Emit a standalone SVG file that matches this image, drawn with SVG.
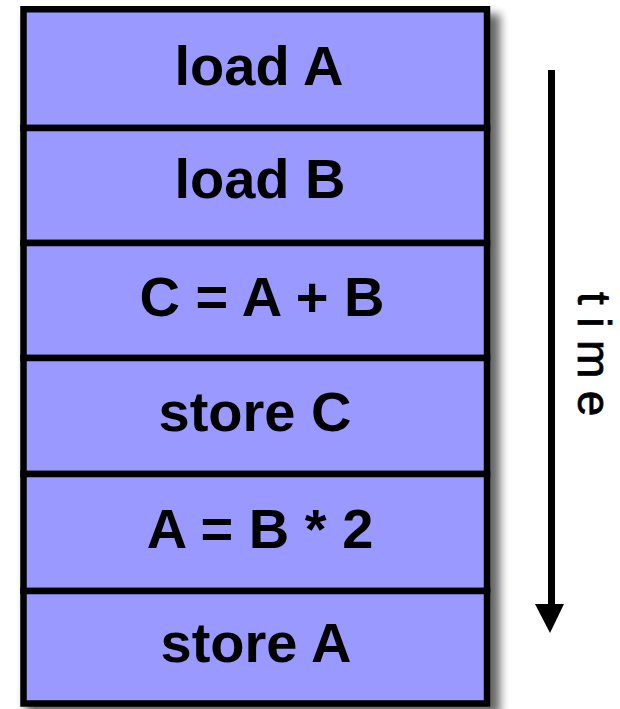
<svg xmlns="http://www.w3.org/2000/svg" width="620" height="709" viewBox="0 0 620 709">
  <defs>
    <filter id="blur" x="-10%" y="-10%" width="120%" height="120%">
      <feGaussianBlur stdDeviation="5"/>
    </filter>
  </defs>
  <style>
    .box { fill: #9999ff; stroke: #000; stroke-width: 6.5; }
    .lbl { font-family: "Liberation Sans", Arial, sans-serif; font-weight: bold; font-size: 56px; fill: #000; text-anchor: middle; }
    .time { font-family: "Liberation Sans", Arial, sans-serif; font-size: 46px; fill: #000; letter-spacing: 12.5px; }
  </style>
  <rect x="26" y="14" width="474" height="700" fill="#000" opacity="0.6" filter="url(#blur)"/>
  <g id="n1"><rect class="box" x="23.5" y="9.25" width="463.5" height="118.75"/><text class="lbl" x="259" y="85">load A</text></g>
  <g id="n2"><rect class="box" x="23.5" y="128" width="463.5" height="115"/><text class="lbl" x="260" y="198">load B</text></g>
  <g id="n3"><rect class="box" x="23.5" y="243" width="463.5" height="115"/><text class="lbl" x="262" y="316">C = A + B</text></g>
  <g id="n4"><rect class="box" x="23.5" y="358" width="463.5" height="116"/><text class="lbl" x="255" y="431">store C</text></g>
  <g id="n5"><rect class="box" x="23.5" y="474" width="463.5" height="117"/><text class="lbl" x="260" y="548">A = B * 2</text></g>
  <g id="n6"><rect class="box" x="23.5" y="591" width="463.5" height="112.5"/><text class="lbl" x="256" y="662">store A</text></g>
  <g id="connectors">
    <line x1="551.5" y1="70" x2="551.5" y2="606" stroke="#000" stroke-width="7"/>
    <polygon points="535,604 564,604 550,633" fill="#000"/>
  </g>
  <text class="time" transform="translate(578,292) rotate(90)" stroke="#000" stroke-width="0.8">time</text>
</svg>
